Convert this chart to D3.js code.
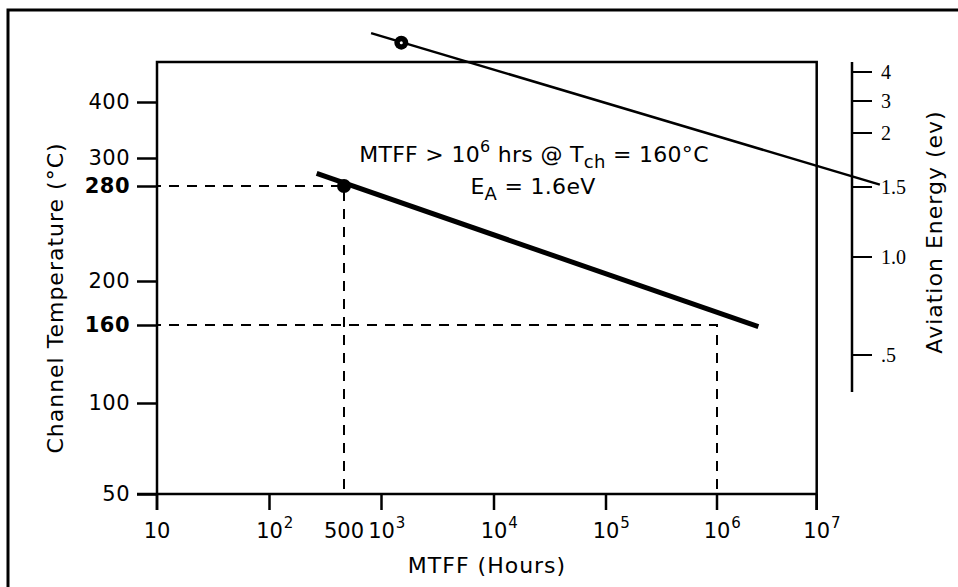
<!DOCTYPE html>
<html>
<head>
<meta charset="utf-8">
<script src="https://cdn.jsdelivr.net/npm/d3@7"></script>
<style>
  body { margin: 0; background: #fff; }
  svg { display: block; }
  text { font-family: "DejaVu Sans", sans-serif; fill: #000; }
</style>
</head>
<body>
<svg id="chart" width="958" height="587"></svg>
<script>
// 데이터
const tempTicks = [50, 100, 160, 200, 280, 300, 400];
const boldTemps = [160, 280];
const hourTicks = [10, 1e2, 1e3, 1e4, 1e5, 1e6, 1e7];
const hourExtra = [500];
const energyTicks = [0.5, 1.0, 1.5, 2, 3, 4];
const energyLabels = [".5", "1.0", "1.5", "2", "3", "4"];

const mainLine = [{ h: 277, t: 289 }, { h: 2.6e6, t: 158.7 }];
const mainPoint = { h: 500, t: 280 };
const eaLine = [{ h: 825, t: 523 }, { h: 4.3e7, t: 281 }];
const eaPoint = { h: 1500, t: 506 };
const refLevels = [{ h: 500, t: 280 }, { h: 1e6, t: 160 }];

const svg = d3.select("#chart");

// plot box
const pLeft = 157, pRight = 816.7, pTop = 62, pBottom = 494;

// 축의 범위 정의 (hand-drawn axes, piecewise)
const yScale = d3.scaleLinear()
  .domain(tempTicks)
  .range([494, 403, 325, 281, 186, 158, 102]);

const xBreaks = hourTicks.concat(hourExtra).sort((a, b) => a - b);
const xLog = d3.scaleLinear()
  .domain(xBreaks.map(Math.log10))
  .range([157, 269.5, 344, 381.5, 494, 606, 717, 816.7]);
const xScale = h => xLog(Math.log10(h));

const eScale = d3.scaleLinear()
  .domain(energyTicks)
  .range([355, 257, 187, 133, 101, 72]);

// outer border (top + left only)
svg.append("path")
  .attr("d", "M8,587 L8,10 L958,10")
  .attr("fill", "none")
  .attr("stroke", "#000")
  .attr("stroke-width", 3);

// plot frame
svg.append("path")
  .attr("d", `M${pLeft},510 L${pLeft},${pTop} L${pRight},${pTop} L${pRight},510`)
  .attr("fill", "none")
  .attr("stroke", "#000")
  .attr("stroke-width", 2.5);

// y축
const yAxis = svg.append("g")
  .attr("transform", `translate(${pLeft},0)`)
  .call(d3.axisLeft(yScale).tickValues(tempTicks).tickSize(20).tickPadding(7).tickFormat(d3.format("d")));
yAxis.select(".domain").remove();
yAxis.selectAll(".tick line").attr("stroke", "#000").attr("stroke-width", 2.5);
yAxis.selectAll(".tick text")
  .attr("fill", "#000")
  .style("font-family", "'DejaVu Sans', sans-serif")
  .style("font-size", "21px")
  .style("letter-spacing", "0.5px")
  .style("font-weight", d => boldTemps.includes(d) ? "bold" : "normal");

// x축
svg.append("line")
  .attr("x1", 137).attr("x2", pRight)
  .attr("y1", pBottom).attr("y2", pBottom)
  .attr("stroke", "#000").attr("stroke-width", 2.5);

svg.selectAll("line.xtick")
  .data(hourTicks)
  .enter()
  .append("line")
  .attr("class", "xtick")
  .attr("x1", d => xScale(d)).attr("x2", d => xScale(d))
  .attr("y1", pBottom).attr("y2", 510)
  .attr("stroke", "#000").attr("stroke-width", 2.5);

hourTicks.forEach(h => {
  const x = xScale(h);
  const e = Math.round(Math.log10(h));
  const t = svg.append("text")
    .attr("x", x).attr("y", 538)
    .attr("text-anchor", "middle")
    .style("font-size", "21px")
    .text("10");
  if (e > 1) {
    const w = t.node().getComputedTextLength();
    svg.append("text")
      .attr("x", x + w / 2 + 1).attr("y", 528)
      .style("font-size", "15px")
      .text(e);
  }
});
hourExtra.forEach(h => {
  svg.append("text")
    .attr("x", xScale(h)).attr("y", 538)
    .attr("text-anchor", "middle")
    .style("font-size", "21px")
    .text(h);
});

// 오른쪽 축 (energy)
svg.append("line")
  .attr("x1", 852).attr("x2", 852)
  .attr("y1", pTop).attr("y2", 392)
  .attr("stroke", "#000").attr("stroke-width", 2.5);

svg.selectAll("line.etick")
  .data(energyTicks)
  .enter()
  .append("line")
  .attr("class", "etick")
  .attr("x1", 852).attr("x2", 872)
  .attr("y1", d => eScale(d)).attr("y2", d => eScale(d))
  .attr("stroke", "#000").attr("stroke-width", 2);

svg.selectAll("text.elabel")
  .data(energyTicks)
  .enter()
  .append("text")
  .attr("class", "elabel")
  .attr("x", 881)
  .attr("y", d => eScale(d) + 7)
  .style("font-family", "'Liberation Serif', serif")
  .style("font-size", "20px")
  .text((d, i) => energyLabels[i]);

// 기준 점선
refLevels.forEach(r => {
  svg.append("path")
    .attr("d", `M${pLeft},${yScale(r.t)} L${xScale(r.h)},${yScale(r.t)} L${xScale(r.h)},${pBottom}`)
    .attr("fill", "none")
    .attr("stroke", "#000")
    .attr("stroke-width", 2)
    .attr("stroke-dasharray", "10,8")
    .attr("stroke-dashoffset", -12);
});

const line = d3.line()
  .x(d => xScale(d.h))
  .y(d => yScale(d.t));

// Line 그래프 그리기
svg.append("path")
  .datum(mainLine)
  .attr("d", line)
  .attr("fill", "none")
  .attr("stroke", "#000")
  .attr("stroke-width", 5);

svg.append("circle")
  .attr("cx", xScale(mainPoint.h))
  .attr("cy", yScale(mainPoint.t))
  .attr("r", 7)
  .attr("fill", "#000");

svg.append("path")
  .datum(eaLine)
  .attr("d", line)
  .attr("fill", "none")
  .attr("stroke", "#000")
  .attr("stroke-width", 2.5);

svg.append("circle")
  .attr("cx", xScale(eaPoint.h))
  .attr("cy", yScale(eaPoint.t))
  .attr("r", 7)
  .attr("fill", "#000");
svg.append("circle")
  .attr("cx", xScale(eaPoint.h))
  .attr("cy", yScale(eaPoint.t))
  .attr("r", 1.5)
  .attr("fill", "#fff");

// 주석
const note1 = svg.append("text")
  .attr("x", 534).attr("y", 162)
  .attr("text-anchor", "middle")
  .style("font-size", "22px")
  .style("letter-spacing", "0.3px");
note1.append("tspan").text("MTFF > 10");
note1.append("tspan").attr("dy", -10).style("font-size", "16px").text("6");
note1.append("tspan").attr("dy", 10).text(" hrs @ T");
note1.append("tspan").attr("dy", 6).style("font-size", "18px").text("ch");
note1.append("tspan").attr("dy", -6).text(" =  160°C");

const note2 = svg.append("text")
  .attr("x", 533).attr("y", 194)
  .attr("text-anchor", "middle")
  .style("font-size", "22px")
  .style("letter-spacing", "0.3px");
note2.append("tspan").text("E");
note2.append("tspan").attr("dy", 6).style("font-size", "18px").text("A");
note2.append("tspan").attr("dy", -6).text(" =  1.6eV");

// 축 제목
svg.append("text")
  .attr("transform", "translate(63,298) rotate(-90)")
  .attr("text-anchor", "middle")
  .style("font-size", "22px")
  .style("letter-spacing", "1px")
  .text("Channel Temperature (°C)");

svg.append("text")
  .attr("x", 487).attr("y", 573)
  .attr("text-anchor", "middle")
  .style("font-size", "22px")
  .style("letter-spacing", "1px")
  .text("MTFF (Hours)");

svg.append("text")
  .attr("transform", "translate(942,232) rotate(-90)")
  .attr("text-anchor", "middle")
  .style("font-size", "22px")
  .style("letter-spacing", "1px")
  .text("Aviation Energy (ev)");
</script>
</body>
</html>
